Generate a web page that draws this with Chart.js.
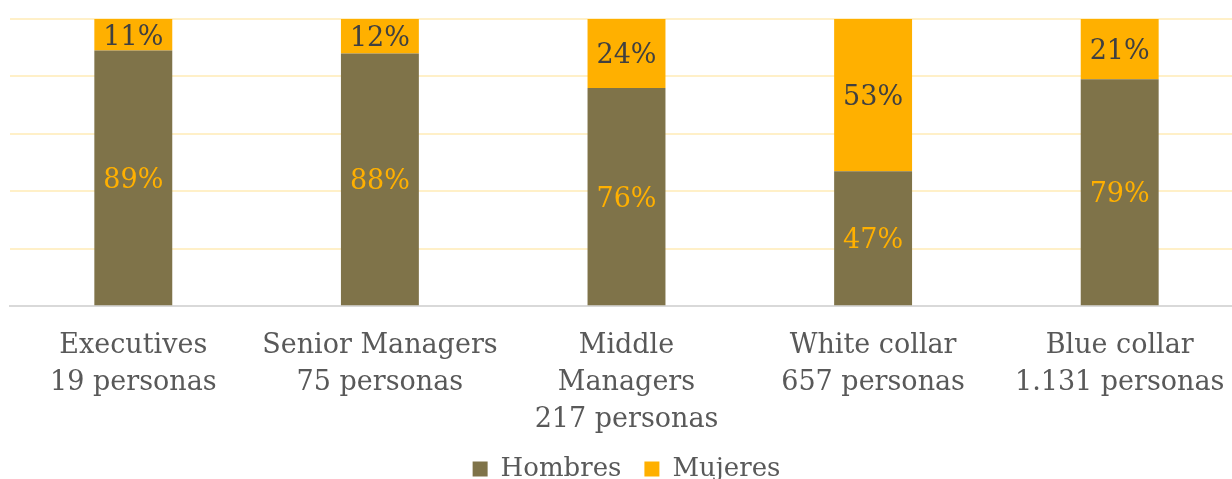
<!DOCTYPE html>
<html>
<head>
<meta charset="utf-8">
<script src="https://cdn.jsdelivr.net/npm/chart.js@4"></script>
<style>
  html, body { margin: 0; padding: 0; background: #fff; overflow: hidden; }
  #caja { width: 1243px; height: 492px; }
</style>
</head>
<body>
<div id="caja"><canvas id="graficoPlantilla"></canvas></div>
<script>
// Categorías y porcentajes por género
const categorias = [
    ['Executives', '19 personas'],
    ['Senior Managers', '75 personas'],
    ['Middle', 'Managers', '217 personas'],
    ['White collar', '657 personas'],
    ['Blue collar', '1.131 personas']
];
const hombres = [89, 88, 76, 47, 79];
const mujeres = [11, 12, 24, 53, 21];
const marcasY = [0, 20, 40, 60, 80, 100];

const fuente = 'Georgia, "DejaVu Serif", serif';

// Etiquetas de porcentaje dentro de cada segmento
const etiquetasBarras = {
    id: 'etiquetasBarras',
    afterDatasetsDraw(chart) {
        const ctx = chart.ctx;
        ctx.save();
        ctx.font = '27px ' + fuente;
        ctx.textAlign = 'center';
        ctx.textBaseline = 'middle';
        chart.data.datasets.forEach((ds, i) => {
            chart.getDatasetMeta(i).data.forEach((barra, j) => {
                const centro = barra.getCenterPoint();
                ctx.fillStyle = ds.colorEtiqueta;
                ctx.fillText(ds.data[j] + '%', centro.x, centro.y + 3);
            });
        });
        ctx.restore();
    }
};

new Chart(document.getElementById('graficoPlantilla'), {
    type: 'bar',
    data: {
        labels: categorias,
        datasets: [{
            label: 'Hombres',
            data: hombres,
            backgroundColor: '#7f7349',
            colorEtiqueta: '#ffb000'
        }, {
            label: 'Mujeres',
            data: mujeres,
            backgroundColor: '#ffb000',
            colorEtiqueta: '#404040'
        }]
    },
    options: {
        responsive: true,
        maintainAspectRatio: false,
        animation: false,
        barPercentage: 0.316,
        categoryPercentage: 1,
        layout: { padding: { left: 10, right: 0, top: 19, bottom: 0 } },
        plugins: {
            tooltip: { enabled: false },
            legend: {
                position: 'bottom',
                labels: {
                    font: { family: fuente, size: 26 },
                    color: '#595959',
                    boxWidth: 15,
                    boxHeight: 15,
                    padding: 23
                }
            }
        },
        scales: {
            x: {
                stacked: true,
                grid: { display: false },
                border: { color: '#d9d9d9', width: 2 },
                ticks: {
                    font: { family: fuente, size: 27, lineHeight: 1.38 },
                    color: '#595959',
                    padding: 13,
                    maxRotation: 0
                },
                // la leyenda queda más cerca de las etiquetas
                afterFit: (eje) => { eje.height -= 19; }
            },
            y: {
                stacked: true,
                min: 0,
                max: 100,
                afterBuildTicks: (eje) => { eje.ticks = marcasY.map(v => ({ value: v })); },
                ticks: { display: false },
                border: { display: false },
                grid: { color: '#fff0c8', lineWidth: 2, drawTicks: false }
            }
        }
    },
    plugins: [etiquetasBarras]
});
</script>
</body>
</html>
